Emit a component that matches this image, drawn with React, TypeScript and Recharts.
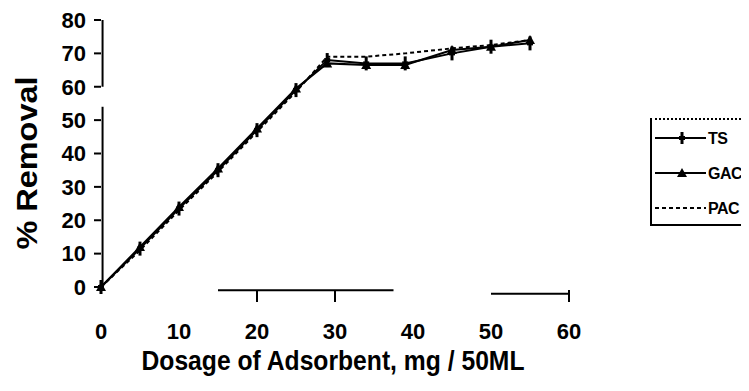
import { LineChart, Line, XAxis, YAxis, Legend, ReferenceLine, Label } from 'recharts';

const dosage = [0, 5, 10, 15, 20, 25, 29, 34, 39, 45, 50, 55];
const tsRemoval = [0, 11.5, 23.5, 35, 47, 59, 68, 67, 67, 70, 72, 73];
const gacRemoval = [0, 12, 24, 35.5, 47.5, 59.5, 67, 66.5, 66.5, 71, 72, 74];
const pacRemoval = [0, 11, 23, 34.5, 46.5, 58.5, 69, 69, 70, 71.5, 72.5, 74];

const xTicks = [0, 10, 20, 30, 40, 50, 60];
const yTicks = [0, 10, 20, 30, 40, 50, 60, 70, 80];
const xTickMarks = [20, 30, 60];

const data = dosage.map((d, i) => ({
    dosage: d,
    TS: tsRemoval[i],
    GAC: gacRemoval[i],
    PAC: pacRemoval[i],
}));

const FONT = '"Liberation Sans", Arial, sans-serif';

const TsDot = (props: any) => {
    const { cx, cy, index } = props;
    if (cx == null || cy == null) return <g key={`ts-${index}`} />;
    return (
        <g key={`ts-${index}`}>
            <line x1={cx} y1={cy - 7} x2={cx} y2={cy + 7} stroke="#000" strokeWidth={3} />
            <rect x={cx - 3} y={cy - 2} width={6} height={4} fill="#000" />
        </g>
    );
};

const GacDot = (props: any) => {
    const { cx, cy, index } = props;
    if (cx == null || cy == null) return <g key={`gac-${index}`} />;
    return (
        <path
            key={`gac-${index}`}
            d={`M${cx},${cy - 5} L${cx + 5},${cy + 4} L${cx - 5},${cy + 4} Z`}
            fill="#000"
        />
    );
};

const XTick = (props: any) => {
    const { x, y, payload } = props;
    const v = payload.value;
    return (
        <g>
            {xTickMarks.includes(v) && (
                <line x1={x} y1={y + 3} x2={x} y2={y + 15} stroke="#000" strokeWidth={2} />
            )}
            <text
                x={x}
                y={y + 44}
                textAnchor="middle"
                dominantBaseline="central"
                fontFamily={FONT}
                fontWeight="bold"
                fontSize={22}
                fill="#000"
            >
                {v}
            </text>
        </g>
    );
};

function LegendBox({ payload }: any) {
    const items = (payload || []).map((p: any) => p.value);
    return (
        <div
            style={{
                width: 99,
                height: 108,
                borderLeft: '2px solid #000',
                borderTop: '2px dotted #000',
                borderBottom: '2px solid #000',
                boxSizing: 'border-box',
                fontFamily: FONT,
            }}
        >
            <svg width={97} height={104} style={{ display: 'block', overflow: 'visible' }}>
                {items.map((name: string, i: number) => {
                    const y = 18 + i * 35;
                    return (
                        <g key={name}>
                            <line
                                x1={3}
                                y1={y}
                                x2={54}
                                y2={y}
                                stroke="#000"
                                strokeWidth={2}
                                strokeDasharray={name === 'PAC' ? '4 3' : undefined}
                            />
                            {name === 'TS' && (
                                <g>
                                    <line x1={30} y1={y - 6} x2={30} y2={y + 6} stroke="#000" strokeWidth={3} />
                                    <rect x={27} y={y - 2} width={6} height={4} fill="#000" />
                                </g>
                            )}
                            {name === 'GAC' && (
                                <path d={`M30,${y - 5} L35,${y + 4} L25,${y + 4} Z`} fill="#000" />
                            )}
                            <text
                                x={56}
                                y={y}
                                dominantBaseline="central"
                                fontWeight="bold"
                                fontSize={16}
                                letterSpacing={-0.5}
                                fill="#000"
                            >
                                {name}
                            </text>
                        </g>
                    );
                })}
            </svg>
        </div>
    );
}

export default function App() {
    return (
        <div style={{ width: 741, height: 375 }}>
            <LineChart
                width={741}
                height={375}
                data={data}
                margin={{ top: 12, right: 180, bottom: 16, left: 0 }}
            >
                <XAxis
                    dataKey="dosage"
                    type="number"
                    domain={[0, 60]}
                    ticks={xTicks}
                    axisLine={false}
                    tickLine={false}
                    tickSize={0}
                    tickMargin={0}
                    height={80}
                    tick={<XTick />}
                    interval={0}
                >
                    <Label
                        content={({ viewBox }: any) => (
                            <text
                                x={viewBox.x + viewBox.width / 2 - 2}
                                y={viewBox.y + 83}
                                textAnchor="middle"
                                textLength={383}
                                lengthAdjust="spacingAndGlyphs"
                                fontFamily={FONT}
                                fontWeight="bold"
                                fontSize={28}
                                fill="#000"
                            >
                                Dosage of Adsorbent, mg / 50ML
                            </text>
                        )}
                    />
                </XAxis>
                <YAxis
                    type="number"
                    domain={[0, 80]}
                    ticks={yTicks}
                    width={93}
                    axisLine={false}
                    tickLine={{ stroke: '#000', strokeWidth: 2 }}
                    tickSize={7}
                    tickMargin={8}
                    interval={0}
                    tick={{ fill: '#000', fontFamily: FONT, fontWeight: 'bold', fontSize: 22 }}
                >
                    <Label
                        content={({ viewBox }: any) => {
                            const cx = 18;
                            const cy = viewBox.y + 143;
                            return (
                                <text
                                    x={cx}
                                    y={cy}
                                    transform={`rotate(-90 ${cx} ${cy})`}
                                    textAnchor="middle"
                                    dominantBaseline="central"
                                    textLength={173}
                                    lengthAdjust="spacingAndGlyphs"
                                    fontFamily={FONT}
                                    fontWeight="bold"
                                    fontSize={30}
                                    fill="#000"
                                >
                                    % Removal
                                </text>
                            );
                        }}
                    />
                </YAxis>
                <ReferenceLine
                    segment={[{ x: 0.2, y: 0 }, { x: 0.2, y: 54 }]}
                    stroke="#000"
                    strokeWidth={2}
                    ifOverflow="visible"
                />
                <ReferenceLine
                    segment={[{ x: 0.2, y: 60 }, { x: 0.2, y: 80 }]}
                    stroke="#000"
                    strokeWidth={2}
                    ifOverflow="visible"
                />
                <ReferenceLine
                    segment={[{ x: 15, y: -1 }, { x: 37.5, y: -1 }]}
                    stroke="#000"
                    strokeWidth={2}
                    ifOverflow="visible"
                />
                <ReferenceLine
                    segment={[{ x: 50, y: -2 }, { x: 60, y: -2 }]}
                    stroke="#000"
                    strokeWidth={2}
                    ifOverflow="visible"
                />
                <Line
                    type="linear"
                    dataKey="PAC"
                    name="PAC"
                    stroke="#000"
                    strokeWidth={2}
                    strokeDasharray="4 3"
                    dot={false}
                    isAnimationActive={false}
                />
                <Line
                    type="linear"
                    dataKey="GAC"
                    name="GAC"
                    stroke="#000"
                    strokeWidth={2}
                    dot={GacDot}
                    isAnimationActive={false}
                />
                <Line
                    type="linear"
                    dataKey="TS"
                    name="TS"
                    stroke="#000"
                    strokeWidth={2}
                    dot={TsDot}
                    isAnimationActive={false}
                />
                <Legend
                    layout="vertical"
                    align="center"
                    verticalAlign="middle"
                    content={(props: any) => {
                        const order = ['TS', 'GAC', 'PAC'];
                        const payload = order.map((n) => (props.payload || []).find((p: any) => p.value === n)).filter(Boolean);
                        return <LegendBox payload={payload} />;
                    }}
                    wrapperStyle={{ left: 642, top: 110, width: 99, height: 108 }}
                />
            </LineChart>
        </div>
    );
}
